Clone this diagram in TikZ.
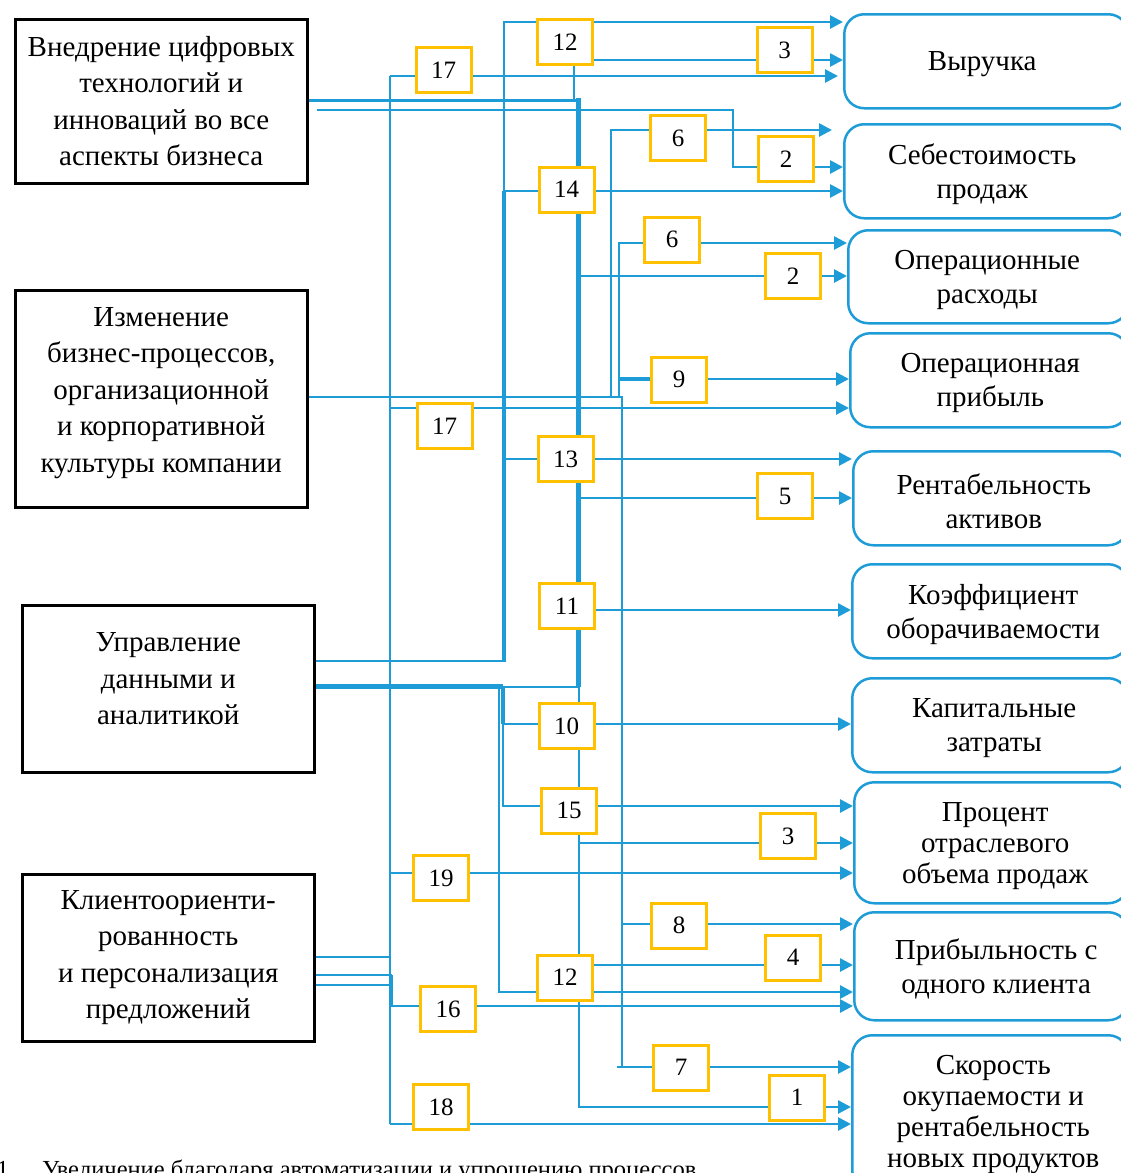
\documentclass[tikz,border=0pt]{standalone}
\usepackage{fontspec}
\setmainfont{Liberation Serif}
\usetikzlibrary{arrows.meta}
\definecolor{lnblue}{RGB}{30,156,216}
\definecolor{numyel}{RGB}{255,192,0}
\pgfdeclarelayer{bg}
\pgfsetlayers{bg,main}
\begin{document}
\begin{tikzpicture}[x=1pt,y=-1pt,
  srcbox/.style={draw=black, line width=2.5pt, inner sep=0pt, anchor=north west, minimum width=292pt},
  srctext/.style={align=center, inner sep=0pt, font=\fontsize{29}{36.5}\selectfont},
  tgtbox/.style={draw=lnblue, line width=2.5pt, rounded corners=20pt, inner sep=0pt, anchor=north west},
  tgttext/.style={align=center, inner sep=0pt, yshift=-3pt, font=\fontsize{29}{34}\selectfont},
  tgttextb/.style={tgttext, font=\fontsize{29}{31}\selectfont},
  numbox/.style={draw=numyel, line width=3pt, fill=white, inner sep=0pt, minimum width=55pt, minimum height=45pt, font=\fontsize{25}{25}\selectfont},
  ln/.style={draw=lnblue, line width=2.7pt},
  thk/.style={draw=lnblue, line width=5pt},
  arr/.style={ln, -{Triangle[length=13pt,width=13pt]}}
]
\useasboundingbox (0,0) rectangle (1121,1173);
\clip (0,0) rectangle (1121,1173);

% source boxes
\node[srcbox, minimum height=164pt, label={[name=s1t, srctext]center:{Внедрение цифровых\\технологий и\\инноваций во все\\аспекты бизнеса}}] (s1) at (14,18) {};
\node[srcbox, minimum height=217pt, label={[name=s2t, srctext, yshift=6pt]center:{Изменение\\бизнес-процессов,\\организационной\\и корпоративной\\культуры компании}}] (s2) at (14,289) {};
\node[srcbox, minimum height=167pt, label={[name=s3t, srctext, yshift=10pt]center:{Управление\\данными и\\аналитикой}}] (s3) at (21,604) {};
\node[srcbox, minimum height=167pt, label={[name=s4t, srctext]center:{Клиентоориенти-\\рованность\\и персонализация\\предложений}}] (s4) at (21,873) {};

% target boxes
\node[tgtbox, minimum width=284pt, minimum height=94pt, label={[name=t1t, tgttext, xshift=-4pt]center:{Выручка}}] (t1) at (843,13) {};
\node[tgtbox, minimum width=284pt, minimum height=94pt, label={[name=t2t, tgttext, xshift=-4pt]center:{Себестоимость\\продаж}}] (t2) at (843,123) {};
\node[tgtbox, minimum width=280pt, minimum height=93pt, label={[name=t3t, tgttext, xshift=-1pt]center:{Операционные\\расходы}}] (t3) at (847,229) {};
\node[tgtbox, minimum width=278pt, minimum height=94pt, label={[name=t4t, tgttext, xshift=1pt]center:{Операционная\\прибыль}}] (t4) at (849,332) {};
\node[tgtbox, minimum width=275pt, minimum height=94pt, label={[name=t5t, tgttext, xshift=3pt]center:{Рентабельность\\активов}}] (t5) at (852,450) {};
\node[tgtbox, minimum width=276pt, minimum height=94pt, label={[name=t6t, tgttext, xshift=3pt]center:{Коэффициент\\оборачиваемости}}] (t6) at (851,563) {};
\node[tgtbox, minimum width=276pt, minimum height=94pt, label={[name=t7t, tgttext, xshift=4pt]center:{Капитальные\\затраты}}] (t7) at (851,677) {};
\node[tgtbox, minimum width=274pt, minimum height=121pt, label={[name=t8t, tgttextb, xshift=4pt]center:{Процент\\отраслевого\\объема продаж}}] (t8) at (853,781) {};
\node[tgtbox, minimum width=274pt, minimum height=108pt, label={[name=t9t, tgttext, xshift=5pt]center:{Прибыльность с\\одного клиента}}] (t9) at (853,911) {};
\node[tgtbox, minimum width=276pt, minimum height=155pt, label={[name=t10t, tgttextb, xshift=3pt, yshift=1pt]center:{Скорость\\окупаемости и\\рентабельность\\новых продуктов}}] (t10) at (851,1034) {};

% number boxes
\node[numbox] (n12a) at (565,42) {12};
\node[numbox] (n17a) at (443.5,70) {17};
\node[numbox] (n3a) at (784.5,50) {3};
\node[numbox] (n6a) at (678,138) {6};
\node[numbox] (n2a) at (786,159) {2};
\node[numbox] (n14) at (566.5,189.5) {14};
\node[numbox] (n6b) at (672,239.5) {6};
\node[numbox] (n2b) at (793,276) {2};
\node[numbox] (n9) at (679,379.5) {9};
\node[numbox] (n17b) at (444.5,426) {17};
\node[numbox] (n13) at (565.5,459) {13};
\node[numbox] (n5) at (785,496) {5};
\node[numbox] (n11) at (567,606) {11};
\node[numbox] (n10) at (566.5,726) {10};
\node[numbox] (n15) at (569,810.5) {15};
\node[numbox] (n3b) at (788,836) {3};
\node[numbox] (n19) at (441,878) {19};
\node[numbox] (n8) at (679,925.5) {8};
\node[numbox] (n4) at (793,957.5) {4};
\node[numbox] (n12b) at (565,977.5) {12};
\node[numbox] (n16) at (448,1009) {16};
\node[numbox] (n7) at (681,1067.5) {7};
\node[numbox] (n1) at (797,1097.5) {1};
\node[numbox] (n18) at (441,1107) {18};

% caption
\node[anchor=base east, inner sep=0pt, font=\fontsize{24.5}{24.5}\selectfont] (capn) at (9,1177) {1};
\node[anchor=base west, inner sep=0pt, font=\fontsize{24.5}{24.5}\selectfont] (cap) at (42,1177) {Увеличение благодаря автоматизации и упрощению процессов};

\coordinate (e76) at (838,76);
\coordinate (e130) at (832,130);

\begin{pgfonlayer}{bg}
% from box 1
\draw[ln, line width=3pt] (s1.east |- 0,100) -- (578,100);
\draw[thk] (578,98) -- (578,687);
\draw[ln] (n12a.south -| 574,0) -- (574,100);
\draw[ln] (317,110) -- (733,110) -- (733,167) -- (n2a.west |- 0,167);
\draw[arr] (n2a.east |- 0,167) -- (t2.west |- 0,167);
\draw[ln] (578,276) -- (n2b.west |- 0,276);
\draw[arr] (n2b.east |- 0,276) -- (t3.west |- 0,276);
\draw[ln] (578,498) -- (n5.west |- 0,498);
\draw[arr] (n5.east |- 0,498) -- (t5.west |- 0,498);
\draw[arr] (n14.east |- 0,191) -- (t2.west |- 0,191);
\draw[arr] (n13.east |- 0,459) -- (t5.west |- 0,459);
\draw[arr] (n11.east |- 0,610) -- (t6.west |- 0,610);
\draw[ln] (503,687) -- (579,687);
\draw[ln] (579,687) -- (579,1107) -- (n1.west |- 0,1107);
\draw[arr] (n1.east |- 0,1107) -- (t10.west |- 0,1107);
\draw[ln] (579,843) -- (n3b.west |- 0,843);
\draw[arr] (n3b.east |- 0,843) -- (t8.west |- 0,843);
\draw[arr] (n10.east |- 0,724) -- (t7.west |- 0,724);
\draw[arr] (n15.east |- 0,806) -- (t8.west |- 0,806);
\draw[ln] (n12b.east |- 0,965) -- (n4.west |- 0,965);
\draw[arr] (n4.east |- 0,965) -- (t9.west |- 0,965);
\draw[arr] (n12b.east |- 0,992) -- (t9.west |- 0,992);
% from box 3 (upper trunk)
\draw[ln] (s3.east |- 0,661) -- (504,661);
\draw[ln, line width=4pt] (504,662) -- (504,191);
\draw[ln] (504,192) -- (504,22) -- (n12a.west |- 0,22);
\draw[arr] (n12a.east |- 0,22) -- (t1.west |- 0,22);
\draw[ln] (n12a.east |- 0,60) -- (n3a.west |- 0,60);
\draw[arr] (n3a.east |- 0,60) -- (t1.west |- 0,60);
\draw[ln] (504,191) -- (n14.west |- 0,191);
\draw[ln] (504,459) -- (n13.west |- 0,459);
% from box 3 (lower trunk)
\draw[thk] (s3.east |- 0,686) -- (503,686);
\draw[ln, line width=4pt] (503,686) -- (503,724);
\draw[ln] (503,724) -- (503,806) -- (n15.west |- 0,806);
\draw[ln] (503,724) -- (n10.west |- 0,724);
\draw[ln] (499,687) -- (499,992) -- (n12b.west |- 0,992);
% from box 2
\draw[ln] (s2.east |- 0,397) -- (622,397) -- (622,1067);
\draw[ln] (617,1067) -- (n7.west |- 0,1067);
\draw[arr] (n7.east |- 0,1067) -- (t10.west |- 0,1067);
\draw[ln] (622,924) -- (n8.west |- 0,924);
\draw[arr] (n8.east |- 0,924) -- (t9.west |- 0,924);
\draw[ln] (611,397) -- (611,130) -- (n6a.west |- 0,130);
\draw[arr] (n6a.east |- 0,130) -- (e130);
\draw[ln] (619,397) -- (619,243) -- (n6b.west |- 0,243);
\draw[arr] (n6b.east |- 0,243) -- (t3.west |- 0,243);
\draw[ln, line width=3.5pt] (619,379) -- (n9.west |- 0,379);
\draw[arr] (n9.east |- 0,379) -- (t4.west |- 0,379);
% left trunk x=390
\draw[ln] (390,76) -- (390,1124);
\draw[ln] (390,76) -- (n17a.west |- 0,76);
\draw[arr] (n17a.east |- 0,76) -- (e76);
\draw[ln] (390,408) -- (n17b.west |- 0,408);
\draw[arr] (n17b.east |- 0,408) -- (t4.west |- 0,408);
\draw[ln] (390,873) -- (n19.west |- 0,873);
\draw[arr] (n19.east |- 0,873) -- (t8.west |- 0,873);
\draw[ln] (390,1006) -- (n16.west |- 0,1006);
\draw[arr] (n16.east |- 0,1006) -- (t9.west |- 0,1006);
\draw[ln] (390,1124) -- (n18.west |- 0,1124);
\draw[arr] (n18.east |- 0,1124) -- (t10.west |- 0,1124);
\draw[ln] (s4.east |- 0,957) -- (389,957);
\draw[ln] (s4.east |- 0,975) -- (392,975);
\draw[ln] (s4.east |- 0,985) -- (392,985);
\draw[ln] (392,975) -- (392,1006);
\end{pgfonlayer}
\end{tikzpicture}
\end{document}
